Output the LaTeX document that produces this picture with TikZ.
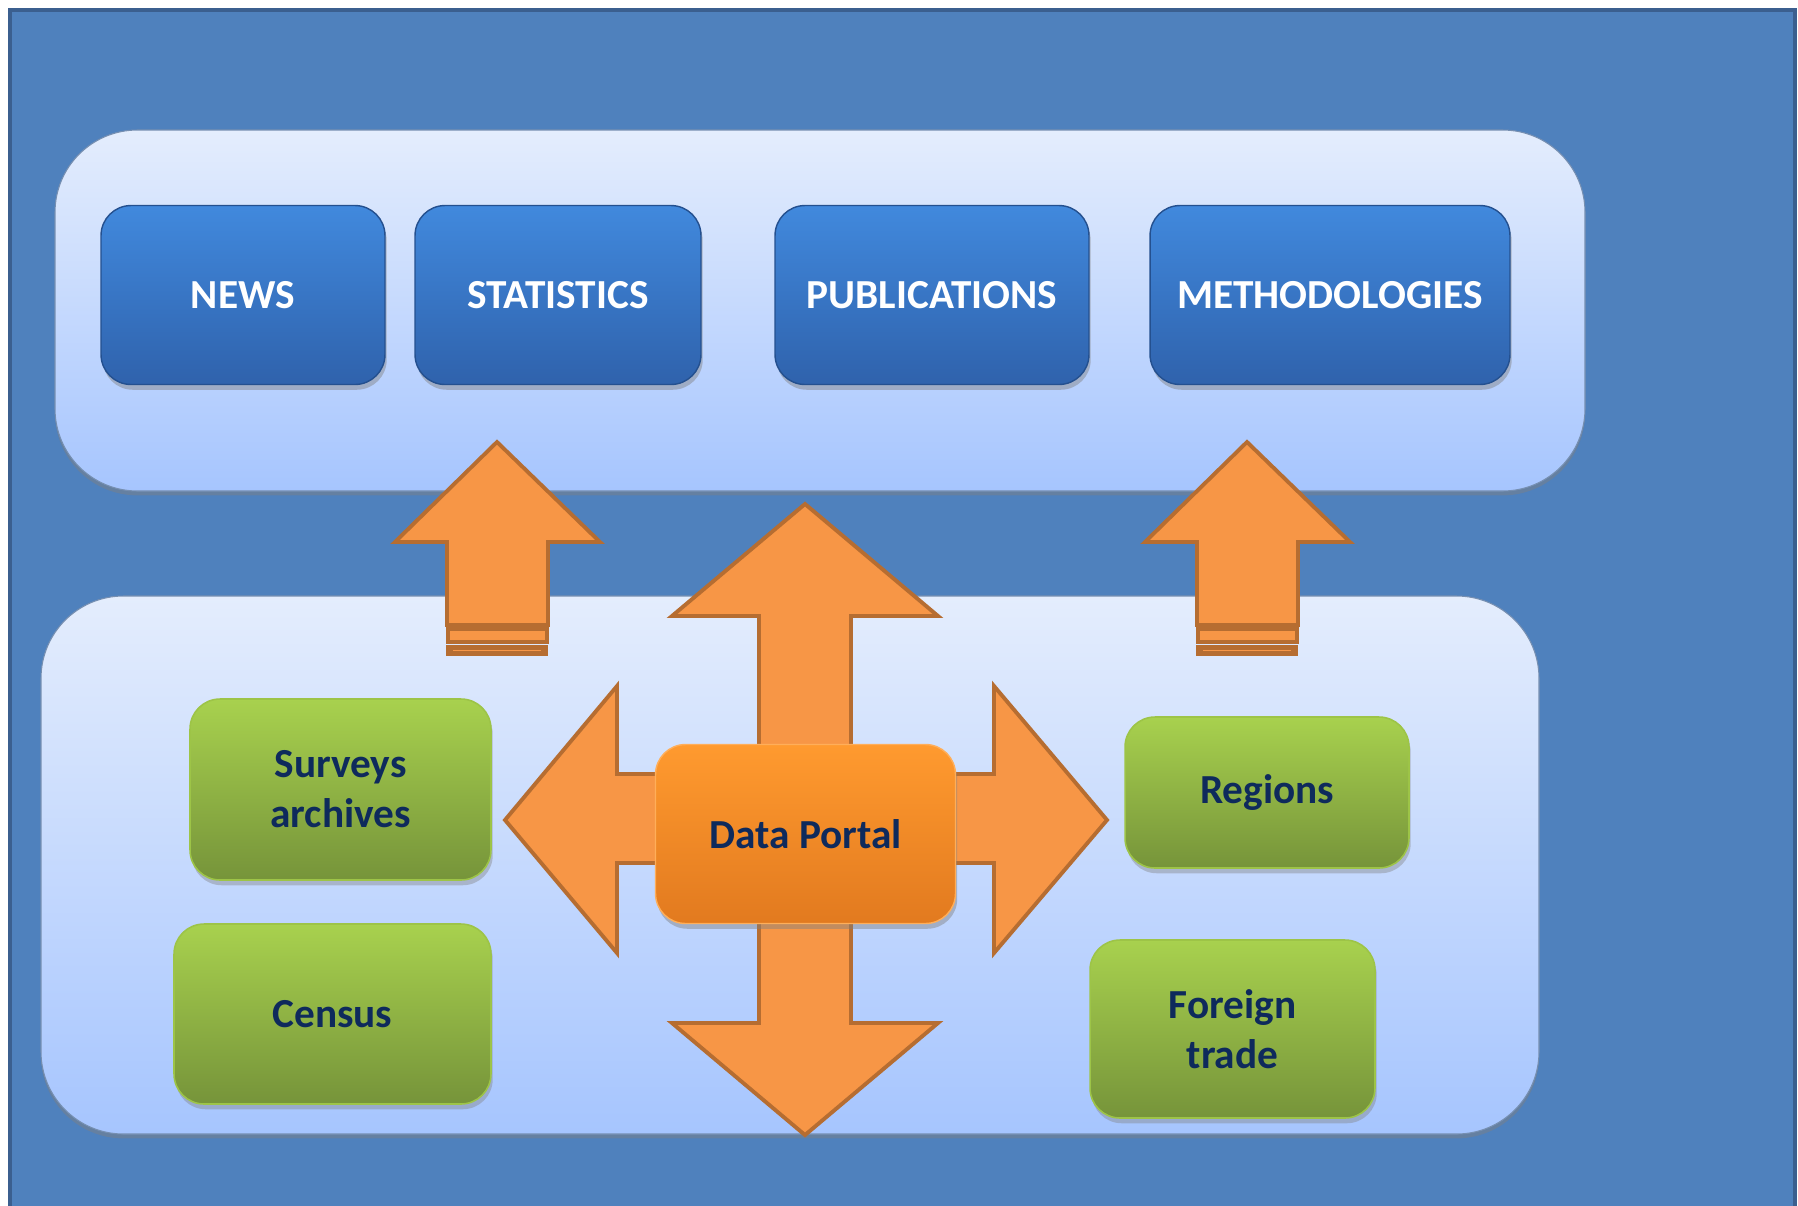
\documentclass[tikz,border=0pt]{standalone}
\usepackage{fontspec}
\setmainfont{Carlito}
\usetikzlibrary{shadows}

\definecolor{bgblue}{HTML}{4F81BD}
\definecolor{bgline}{HTML}{3B5F8F}
\definecolor{paneltop}{HTML}{E4EDFD}
\definecolor{panelbot}{HTML}{A6C5FE}
\definecolor{btntop}{HTML}{4189DD}
\definecolor{btnbot}{HTML}{2F62AC}
\definecolor{btnline}{HTML}{24508F}
\definecolor{greentop}{HTML}{A8D14E}
\definecolor{greenbot}{HTML}{76943A}
\definecolor{greenline}{HTML}{9DC447}
\definecolor{portaltop}{HTML}{FF9A2F}
\definecolor{portalbot}{HTML}{E27A1F}
\definecolor{arrowfill}{HTML}{F79646}
\definecolor{arrowline}{HTML}{B66D31}
\definecolor{navytext}{HTML}{0E2A5C}

\begin{document}
\begin{tikzpicture}[%
		x=0.02cm, y=-0.02cm,
		panel/.style={rounded corners=1.65cm, top color=paneltop, bottom color=panelbot,
			draw=bgline!70, line width=0.6pt,
			drop shadow={opacity=0.45, shadow xshift=0pt, shadow yshift=-2.5pt}},
		bluebtn/.style={rectangle, rounded corners=0.6cm, top color=btntop, bottom color=btnbot,
			draw=btnline, line width=0.8pt, text=white, minimum height=3.58cm,
			font=\fontsize{23.5}{28.5}\selectfont\bfseries,
			drop shadow={opacity=0.45, shadow xshift=1pt, shadow yshift=-3pt}},
		greenbtn/.style={rectangle, rounded corners=0.6cm, top color=greentop, bottom color=greenbot,
			draw=greenline, line width=0.9pt, text=navytext, align=center,
			font=\fontsize{23.5}{28.5}\selectfont\bfseries,
			drop shadow={opacity=0.4, shadow xshift=1pt, shadow yshift=-3pt}},
		portalbox/.style={rectangle, rounded corners=0.6cm, top color=portaltop, bottom color=portalbot,
			draw=portaltop!80!white, line width=0.8pt, text=navytext,
			font=\fontsize{23.5}{28.5}\selectfont\bfseries,
			drop shadow={opacity=0.45, shadow xshift=1pt, shadow yshift=-3pt}},
		bigarrow/.style={fill=arrowfill, draw=arrowline, line width=2.2pt, line join=miter},
		]
		% page 1798 x 1205 px
		\useasboundingbox (0,0) rectangle (1798,1205);
		\clip (0,0) rectangle (1798,1205);
		\fill[white] (0,0) rectangle (1798,1205);
		\draw[fill=bgblue, draw=bgline, line width=2.2pt] (10,10) rectangle (1795,1230);
		
		%%%%%%%%%%%%%%%
		%   PANELS    %
		%%%%%%%%%%%%%%%
		\path[panel] (55,130) rectangle (1585,491);
		\path[panel] (41,596) rectangle (1539,1134);
		
		%%%%%%%%%%%%%%%
		%    NODES    %
		%%%%%%%%%%%%%%%
		% top row
		\node[bluebtn, minimum width=5.68cm] (news) at (243,295) {NEWS};
		\node[bluebtn, minimum width=5.72cm] (stat) at (558,295) {STATISTICS};
		\node[bluebtn, minimum width=6.28cm] (publ) at (932,295) {PUBLICATIONS};
		\node[bluebtn, minimum width=7.2cm] (meth) at (1330,295) {METHODOLOGIES};
		
		% small arrows up
		\foreach \cx in {497,1247} {
			\draw[bigarrow] (\cx,442) -- (\cx+103,542) -- (\cx+51,542) -- (\cx+51,625)
				-- (\cx-50,625) -- (\cx-50,542) -- (\cx-102,542) -- cycle;
			\draw[fill=arrowfill, draw=arrowline, line width=1.8pt] (\cx-49,629) rectangle (\cx+50,642);
			\fill[arrowline] (\cx-51,645) rectangle (\cx+51,656);
			\draw[arrowfill, line width=0.8pt] (\cx-44,650.5) -- (\cx+44,650.5);
		}
		
		% four way arrow
		\draw[bigarrow] (805,504) -- (938,616) -- (851,616) -- (851,774) -- (994,774)
			-- (994,686) -- (1107,820) -- (994,953) -- (994,863) -- (851,863)
			-- (851,1023) -- (938,1023) -- (805,1135) -- (672,1023) -- (759,1023)
			-- (759,863) -- (617,863) -- (617,953) -- (505,820) -- (617,686)
			-- (617,774) -- (759,774) -- (759,616) -- (672,616) -- cycle;
		
		% data sources
		\node[portalbox, minimum width=6cm, minimum height=3.58cm] (portal) at (805.5,834) {Data Portal};
		\node[greenbtn, minimum width=6.02cm, minimum height=3.62cm] (surv) at (340.5,789.5) {Surveys\\archives};
		\node[greenbtn, minimum width=6.34cm, minimum height=3.6cm] (cens) at (332.5,1014) {Census};
		\node[greenbtn, minimum width=5.68cm, minimum height=3.02cm] (regi) at (1267,792.5) {Regions};
		\node[greenbtn, minimum width=5.7cm, minimum height=3.56cm] (fore) at (1232.5,1029) {Foreign\\trade};
		
	\end{tikzpicture}
\end{document}
